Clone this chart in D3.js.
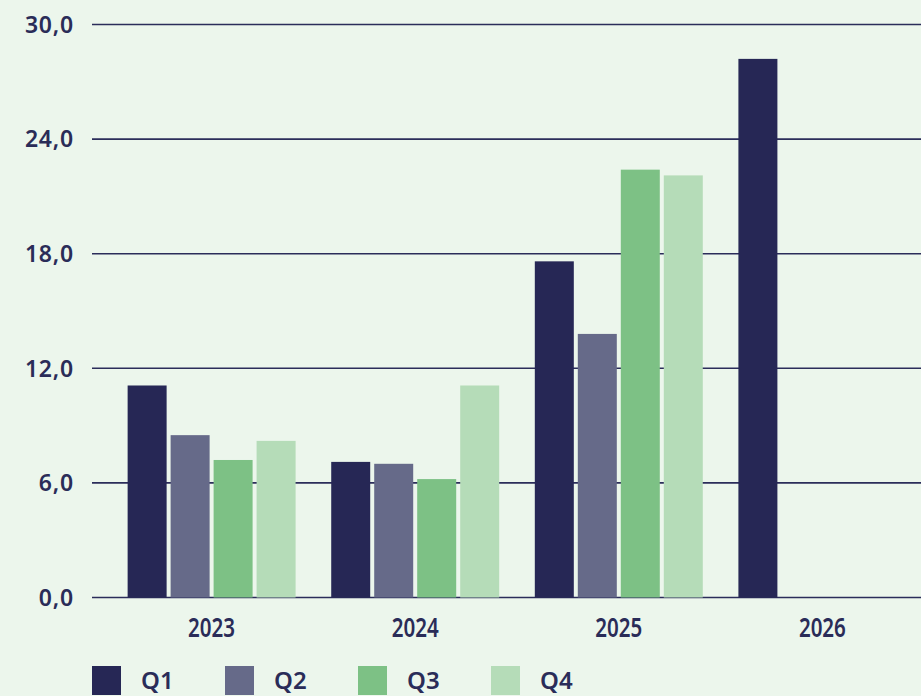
<!DOCTYPE html>
<html lang="en">
<head>
  <meta charset="UTF-8">
  <title>Quarterly bars</title>
  <script src="https://d3js.org/d3.v7.min.js"></script>
  <style>
    html, body {
      margin: 0;
      padding: 0;
      background: #ecf6ec;
    }
    .axisText {
      font-family: "Noto Sans", sans-serif;
      font-weight: 600;
      fill: #2a2c58;
    }
    .gridLine {
      stroke: #2b2d5a;
      stroke-width: 1.6;
    }
  </style>
</head>
<body>
  <div id="chart"></div>

  <script>
    // chart data
    const years = ["2023", "2024", "2025", "2026"];
    const quarters = ["Q1", "Q2", "Q3", "Q4"];
    const q1Values = [11.1, 7.1, 17.6, 28.2];
    const q2Values = [8.5, 7.0, 13.8, null];
    const q3Values = [7.2, 6.2, 22.4, null];
    const q4Values = [8.2, 11.1, 22.1, null];
    const yTicks = [0, 6, 12, 18, 24, 30];

    const barColors = ["#262755", "#666a89", "#7dc185", "#b5dcb8"];

    // sizes
    const width = 921;
    const height = 696;

    const svg = d3.select("#chart")
      .append("svg")
      .attr("width", width)
      .attr("height", height);

    svg.append("rect")
      .attr("width", width)
      .attr("height", height)
      .attr("fill", "#ecf6ec");

    // scales
    const y = d3.scaleLinear()
      .domain([0, 30])
      .range([597.5, 24.5]);

    const x = d3.scaleBand()
      .domain(years)
      .range([92, 942])
      .padding(0.175);

    const xInner = d3.scaleBand()
      .domain(quarters)
      .range([0, x.bandwidth()])
      .paddingInner(0.093);

    // grid lines + y labels
    svg.selectAll(".gridLine")
      .data(yTicks)
      .enter()
      .append("line")
      .attr("class", "gridLine")
      .attr("x1", 92)
      .attr("x2", width)
      .attr("y1", d => y(d))
      .attr("y2", d => y(d));

    svg.selectAll(".yLabel")
      .data(yTicks)
      .enter()
      .append("text")
      .attr("class", "axisText yLabel")
      .attr("x", 74)
      .attr("y", d => y(d))
      .attr("dy", "0.36em")
      .attr("text-anchor", "end")
      .style("font-size", "23px")
      .style("letter-spacing", "0.8px")
      .text(d => d3.format(".1f")(d).replace(".", ","));

    // bars
    const series = [q1Values, q2Values, q3Values, q4Values];
    const barData = [];
    years.forEach((yr, i) => {
      quarters.forEach((q, j) => {
        const v = series[j][i];
        if (v != null) barData.push({ year: yr, quarter: q, value: v, idx: j });
      });
    });

    svg.selectAll(".bar")
      .data(barData)
      .enter()
      .append("rect")
      .attr("class", "bar")
      .attr("x", d => x(d.year) + xInner(d.quarter))
      .attr("y", d => y(d.value))
      .attr("width", xInner.bandwidth())
      .attr("height", d => y(0) - y(d.value))
      .attr("fill", d => barColors[d.idx]);

    // x labels (narrow look)
    svg.selectAll(".xLabel")
      .data(years)
      .enter()
      .append("text")
      .attr("class", "axisText xLabel")
      .attr("x", d => x(d) + x.bandwidth() / 2 - 23.5)
      .attr("y", 627)
      .attr("dy", "0.36em")
      .attr("textLength", 47)
      .attr("lengthAdjust", "spacingAndGlyphs")
      .style("font-size", "26.5px")
      .text(d => d);

    // legend
    const legend = svg.selectAll(".legendItem")
      .data(quarters)
      .enter()
      .append("g")
      .attr("class", "legendItem")
      .attr("transform", (d, i) => `translate(${92 + i * 133}, 666)`);

    legend.append("rect")
      .attr("width", 29)
      .attr("height", 29)
      .attr("fill", (d, i) => barColors[i]);

    legend.append("text")
      .attr("class", "axisText")
      .attr("x", 49)
      .attr("y", 14.5)
      .attr("dy", "0.36em")
      .style("font-size", "24px")
      .text(d => d);
  </script>
</body>
</html>
